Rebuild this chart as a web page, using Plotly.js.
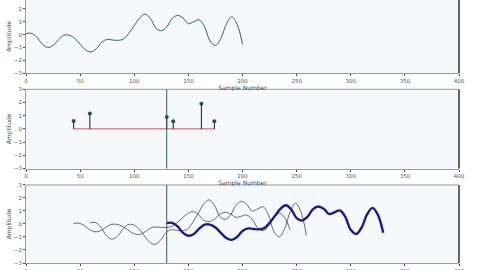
<!DOCTYPE html>
<html>
<head>
<meta charset="utf-8">
<script src="https://cdn.plot.ly/plotly-3.0.1.min.js"></script>
<style>html,body{margin:0;padding:0;background:#fff;}#chart{width:480px;height:270px;}</style>
</head>
<body>
<div id="chart"></div>
<script>
// Input signal (impulse response), read every 5 samples
const sampleX = [0,5,10,15,20,25,30,35,40,45,50,55,60,65,70,75,80,85,90,95,100,105,110,115,120,125,130,135,140,145,150,155,160,165,170,175,180,185,190,195,200];
const signalY = [0.08,0.1,-0.2,-0.75,-1.0,-0.85,-0.4,-0.05,-0.05,-0.3,-0.75,-1.2,-1.35,-1.1,-0.6,-0.38,-0.42,-0.45,-0.35,0.1,0.7,1.3,1.6,1.25,0.5,0.3,0.6,1.25,1.5,1.3,0.85,1.0,1.15,0.6,-0.5,-0.85,-0.3,0.8,1.38,0.8,-0.76];

// Impulses (stem plot)
const impulseX = [44,59,130,136,162,174];
const impulseY = [0.6,1.16,0.9,0.57,1.9,0.57];

// Current sample position
const currentSample = 130;

// Responses in the bottom panel (start sample and values)
const resp1Start = 44;
const resp1Y = [0.05,0.06,-0.12,-0.45,-0.6,-0.51,-0.24,-0.03,-0.03,-0.18,-0.45,-0.72,-0.81,-0.66,-0.36,-0.23,-0.25,-0.27,-0.21,0.06,0.42,0.78,0.96,0.75,0.3,0.18,0.36,0.75,0.9,0.78,0.51,0.6,0.69,0.36,-0.3,-0.51,-0.18,0.48,0.83,0.48,-0.46];
const resp2Start = 59;
const resp2Y = [0.09,0.12,-0.23,-0.87,-1.16,-0.99,-0.46,-0.06,-0.06,-0.35,-0.87,-1.39,-1.57,-1.28,-0.7,-0.44,-0.49,-0.52,-0.41,0.12,0.81,1.51,1.86,1.45,0.58,0.35,0.7,1.45,1.74,1.51,0.99,1.16,1.33,0.7,-0.58,-0.99,-0.35,0.93,1.6,0.93,-0.88];
const resp3Start = 130;
const resp3Y = [0.07,0.09,-0.18,-0.68,-0.9,-0.77,-0.36,-0.05,-0.05,-0.27,-0.68,-1.08,-1.22,-0.99,-0.54,-0.34,-0.38,-0.41,-0.32,0.09,0.63,1.17,1.44,1.13,0.45,0.27,0.54,1.13,1.35,1.17,0.77,0.9,1.04,0.54,-0.45,-0.77,-0.27,0.72,1.24,0.72,-0.68];

const xTicks = [0,50,100,150,200,250,300,350,400];
const yTicks = [-3,-2,-1,0,1,2,3];

// stems
const stemX = [], stemY = [];
impulseX.forEach((x,i)=>{ stemX.push(x,x,null); stemY.push(0,impulseY[i],null); });

const shift = (s)=>sampleX.map(x=>x+s);

const traces = [
  {x: sampleX, y: signalY, xaxis:'x', yaxis:'y', mode:'lines', line:{color:'#2b5f6c', width:1, shape:'spline', smoothing:1}},
  {x: [Math.min(...impulseX), Math.max(...impulseX)], y:[0,0], xaxis:'x2', yaxis:'y2', mode:'lines', line:{color:'#cc4a5a', width:1}},
  {x: stemX, y: stemY, xaxis:'x2', yaxis:'y2', mode:'lines', line:{color:'#1a1a1a', width:1}},
  {x: impulseX, y: impulseY, xaxis:'x2', yaxis:'y2', mode:'markers', marker:{color:'#1f4f5c', size:4}},
  {x: shift(resp1Start), y: resp1Y, xaxis:'x3', yaxis:'y3', mode:'lines', line:{color:'#444', width:0.8, shape:'spline', smoothing:1}},
  {x: shift(resp2Start), y: resp2Y, xaxis:'x3', yaxis:'y3', mode:'lines', line:{color:'#444', width:0.8, shape:'spline', smoothing:1}},
  {x: shift(resp3Start), y: resp3Y, xaxis:'x3', yaxis:'y3', mode:'lines', line:{color:'#1c1c86', width:2.4, shape:'spline', smoothing:1}}
];

const font = {family:'DejaVu Sans', size:5.5, color:'#555'};
function xax(anchor, withTitle){
  const a = {anchor: anchor, domain:[0,1], range:[0,400], tickvals:xTicks, ticks:'outside', ticklen:2, tickcolor:'#444',
    showline:true, linecolor:'#999', linewidth:1, mirror:false, showgrid:false, zeroline:false, tickfont:font};
  if (withTitle) a.title = {text:'Sample Number', font:{family:'DejaVu Sans', size:6, color:'#444'}, standoff:1};
  return a;
}
function yax(anchor, dom, rng){
  return {anchor: anchor, domain: dom, range: rng, tickvals:yTicks, ticks:'outside', ticklen:2, tickcolor:'#444',
    showline:true, linecolor:'#999', linewidth:1, showgrid:false, zeroline:false, tickfont:font,
    title:{text:'Amplitude', font:{family:'DejaVu Sans', size:6, color:'#444'}, standoff:1}};
}

const shapes = [];
['y','y2','y3'].forEach(ya=>{
  shapes.push({type:'line', xref:'paper', yref: ya+' domain', x0:1, x1:1, y0:0, y1:1, line:{color:'#000', width:1.2}});
});
['y2','y3'].forEach(ya=>{
  shapes.push({type:'line', xref:'paper', yref: ya+' domain', x0:0, x1:1, y0:1, y1:1, line:{color:'#999', width:1}});
});
shapes.push({type:'line', xref:'x2', yref:'y2 domain', x0:currentSample, x1:currentSample, y0:0, y1:1, line:{color:'#2c5e6a', width:1}});
shapes.push({type:'line', xref:'x3', yref:'y3 domain', x0:currentSample, x1:currentSample, y0:0, y1:1, line:{color:'#2c5e6a', width:1}});

const layout = {
  width:480, height:270,
  margin:{l:26, r:21, t:0, b:7},
  paper_bgcolor:'#ffffff', plot_bgcolor:'#f7f8fb',
  showlegend:false,
  xaxis: xax('y', true), xaxis2: xax('y2', true), xaxis3: xax('y3', false),
  yaxis: yax('x', [0.7224,1], [-3,2.7]),
  yaxis2: yax('x2', [0.3593,0.6605], [-3,3]),
  yaxis3: yax('x3', [0,0.2966], [-3,3]),
  shapes: shapes
};

Plotly.newPlot('chart', traces, layout, {staticPlot:true, displayModeBar:false});
</script>
</body>
</html>
